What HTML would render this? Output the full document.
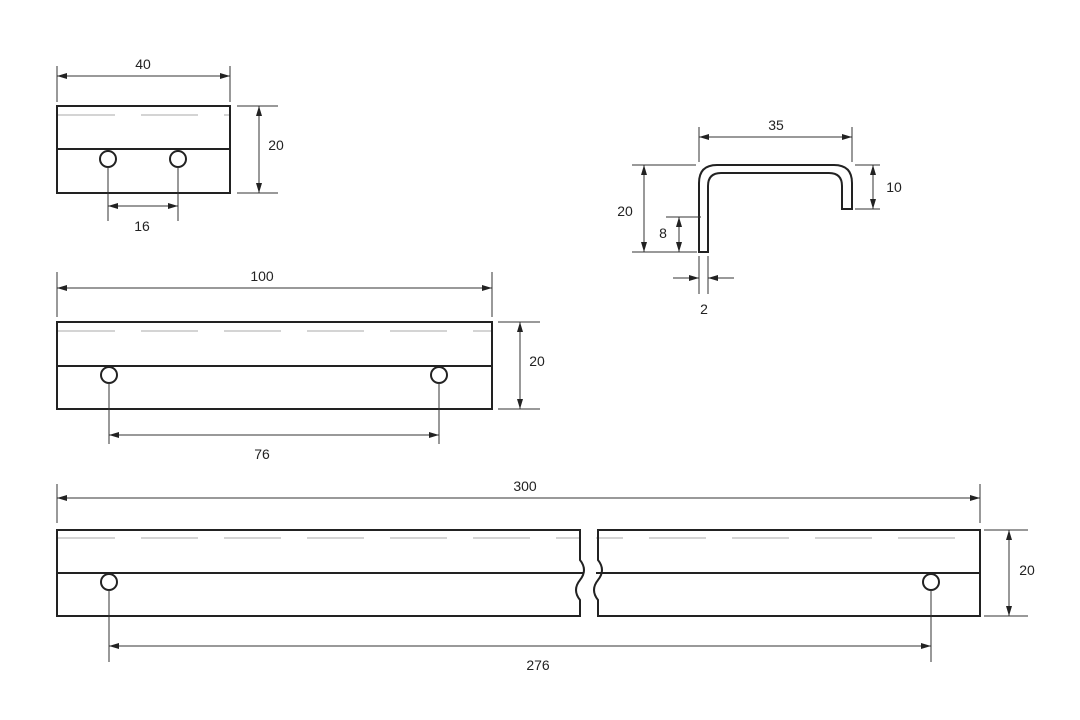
<!DOCTYPE html>
<html><head><meta charset="utf-8"><style>
html,body{margin:0;padding:0;background:#fff;}
svg{display:block;}
text{font-family:"Liberation Sans",sans-serif;font-size:14px;fill:#222;text-anchor:middle;}
.o{stroke:#222;stroke-width:2;fill:none;}
.t{stroke:#333;stroke-width:1;fill:none;}
.d{stroke:#bbb;stroke-width:1.2;stroke-dasharray:57 26;fill:none;}
</style></head><body>
<svg width="1080" height="720" viewBox="0 0 1080 720" xmlns="http://www.w3.org/2000/svg">
<defs>
<marker id="a" viewBox="0 0 10 6" refX="10" refY="3" markerWidth="10" markerHeight="6" orient="auto-start-reverse" markerUnits="userSpaceOnUse"><path d="M0,0 L10,3 L0,6 z" fill="#222"/></marker>
</defs>

<!-- Top-left view -->
<line class="d" x1="58" y1="115" x2="229" y2="115"/>
<rect class="o" x="57" y="106" width="173" height="87"/>
<line class="o" x1="57" y1="149" x2="230" y2="149"/>
<circle class="o" cx="108" cy="159" r="8" fill="#fff"/>
<circle class="o" cx="178" cy="159" r="8" fill="#fff"/>
<line class="t" x1="57" y1="66" x2="57" y2="102"/>
<line class="t" x1="230" y1="66" x2="230" y2="102"/>
<line class="t" x1="57" y1="76" x2="230" y2="76" marker-start="url(#a)" marker-end="url(#a)"/>
<text x="143" y="69">40</text>
<line class="t" x1="237" y1="106" x2="278" y2="106"/>
<line class="t" x1="237" y1="193" x2="278" y2="193"/>
<line class="t" x1="259" y1="106" x2="259" y2="193" marker-start="url(#a)" marker-end="url(#a)"/>
<text x="276" y="150">20</text>
<line class="t" x1="108" y1="167" x2="108" y2="221"/>
<line class="t" x1="178" y1="167" x2="178" y2="221"/>
<line class="t" x1="108" y1="206" x2="178" y2="206" marker-start="url(#a)" marker-end="url(#a)"/>
<text x="142" y="231">16</text>

<!-- Profile -->
<path class="o" stroke-width="1.6" d="M699,252 L699,183 Q699,165 717,165 L834,165 Q852,165 852,183 L852,209 L842,209 L842,186 Q842,173 829,173 L721,173 Q708,173 708,186 L708,252 Z"/>
<line class="t" x1="699" y1="127" x2="699" y2="162"/>
<line class="t" x1="852" y1="127" x2="852" y2="162"/>
<line class="t" x1="699" y1="137" x2="852" y2="137" marker-start="url(#a)" marker-end="url(#a)"/>
<text x="776" y="130">35</text>
<line class="t" x1="632" y1="165" x2="696" y2="165"/>
<line class="t" x1="632" y1="252" x2="697" y2="252"/>
<line class="t" x1="644" y1="165" x2="644" y2="252" marker-start="url(#a)" marker-end="url(#a)"/>
<text x="625" y="216">20</text>
<line class="t" x1="666" y1="217" x2="701" y2="217"/>
<line class="t" x1="679" y1="217" x2="679" y2="252" marker-start="url(#a)" marker-end="url(#a)"/>
<text x="663" y="238">8</text>
<line class="t" x1="855" y1="165" x2="880" y2="165"/>
<line class="t" x1="855" y1="209" x2="880" y2="209"/>
<line class="t" x1="873" y1="165" x2="873" y2="209" marker-start="url(#a)" marker-end="url(#a)"/>
<text x="894" y="192">10</text>
<line class="t" x1="699" y1="256" x2="699" y2="294"/>
<line class="t" x1="708" y1="256" x2="708" y2="294"/>
<line class="t" x1="673" y1="278" x2="699" y2="278" marker-end="url(#a)"/>
<line class="t" x1="734" y1="278" x2="708" y2="278" marker-end="url(#a)"/>
<text x="704" y="314">2</text>

<!-- Middle view -->
<line class="d" x1="58" y1="331" x2="491" y2="331"/>
<rect class="o" x="57" y="322" width="435" height="87"/>
<line class="o" x1="57" y1="366" x2="492" y2="366"/>
<circle class="o" cx="109" cy="375" r="8" fill="#fff"/>
<circle class="o" cx="439" cy="375" r="8" fill="#fff"/>
<line class="t" x1="57" y1="272" x2="57" y2="317"/>
<line class="t" x1="492" y1="272" x2="492" y2="317"/>
<line class="t" x1="57" y1="288" x2="492" y2="288" marker-start="url(#a)" marker-end="url(#a)"/>
<text x="262" y="281">100</text>
<line class="t" x1="498" y1="322" x2="540" y2="322"/>
<line class="t" x1="498" y1="409" x2="540" y2="409"/>
<line class="t" x1="520" y1="322" x2="520" y2="409" marker-start="url(#a)" marker-end="url(#a)"/>
<text x="537" y="366">20</text>
<line class="t" x1="109" y1="383" x2="109" y2="444"/>
<line class="t" x1="439" y1="383" x2="439" y2="444"/>
<line class="t" x1="109" y1="435" x2="439" y2="435" marker-start="url(#a)" marker-end="url(#a)"/>
<text x="262" y="459">76</text>

<!-- Bottom view -->
<line class="d" x1="58" y1="538" x2="579" y2="538"/>
<line class="d" x1="596" y1="538" x2="979" y2="538" stroke-dashoffset="30"/>
<path class="o" d="M580,530 L57,530 L57,616 L580,616 L580,600 Q572,590 580,580 Q588,570 580,560 Z"/>
<path class="o" d="M598,530 L980,530 L980,616 L598,616 L598,600 Q590,590 598,580 Q606,570 598,560 Z"/>
<line class="o" x1="57" y1="573" x2="583" y2="573"/>
<line class="o" x1="596" y1="573" x2="980" y2="573"/>
<circle class="o" cx="109" cy="582" r="8" fill="#fff"/>
<circle class="o" cx="931" cy="582" r="8" fill="#fff"/>
<line class="t" x1="57" y1="484" x2="57" y2="523"/>
<line class="t" x1="980" y1="484" x2="980" y2="523"/>
<line class="t" x1="57" y1="498" x2="980" y2="498" marker-start="url(#a)" marker-end="url(#a)"/>
<text x="525" y="491">300</text>
<line class="t" x1="984" y1="530" x2="1028" y2="530"/>
<line class="t" x1="984" y1="616" x2="1028" y2="616"/>
<line class="t" x1="1009" y1="530" x2="1009" y2="616" marker-start="url(#a)" marker-end="url(#a)"/>
<text x="1027" y="575">20</text>
<line class="t" x1="109" y1="590" x2="109" y2="662"/>
<line class="t" x1="931" y1="590" x2="931" y2="662"/>
<line class="t" x1="109" y1="646" x2="931" y2="646" marker-start="url(#a)" marker-end="url(#a)"/>
<text x="538" y="670">276</text>
</svg>
</body></html>
